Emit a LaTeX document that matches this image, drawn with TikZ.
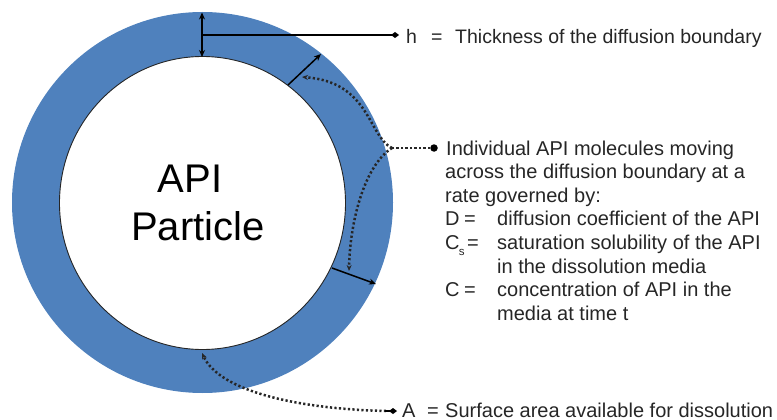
\documentclass[tikz,border=0pt]{standalone}
\usepackage{fontspec}
\setmainfont{Liberation Sans}
\usetikzlibrary{arrows.meta}
\definecolor{ringblue}{RGB}{79,129,189}
\definecolor{txt}{RGB}{38,38,38}
\begin{document}
\begin{tikzpicture}[x=1pt,y=-1pt,
  lbl/.style={anchor=base west, inner sep=0pt, text=txt, font=\fontsize{20}{23}\selectfont},
  hlbl/.style={lbl, font=\fontsize{19.5}{23}\selectfont},
  big/.style={anchor=base, inner sep=0pt, text=black, font=\fontsize{40}{46}\selectfont},
  solidarrow/.style={line width=1.7pt, draw=black},
  dotline/.style={line width=2.5pt, dash pattern=on 2.2pt off 2.3pt, line cap=butt, draw=black!85},
  dottip/.style={-{Stealth[length=6pt,width=5pt]}},
  bullet/.style={circle, fill=black, inner sep=0pt, minimum size=7.5pt}
]
\useasboundingbox (0,0) rectangle (777,420);

% ring
\coordinate (c) at (202.5,203);
\fill[ringblue, even odd rule] (202.5,202.5) circle[radius=190.5pt]
  (c) ellipse[x radius=143pt, y radius=146.5pt];
\draw[line width=0.9pt, black!85] (c) ellipse[x radius=143pt, y radius=146.5pt];

% central label
\node[big] (api) at (190,192) {API};
\node[big] (particle) at (198,240) {Particle};

% h : thickness
\coordinate (hin) at (202,57);
\coordinate (hout) at (202,12.5);
\coordinate (hmid) at (202,35);
\coordinate (hend) at (399,35);
\draw[solidarrow, {Stealth[length=7pt,width=6pt]}-{Stealth[length=7pt,width=6pt]}] (hin) -- (hout);
\draw[solidarrow, -{Diamond[length=8pt,width=6pt]}] (hmid) -- (hend);
\node[hlbl] (hsym) at (406,44) {h};
\node[hlbl] (heq) at (431,44) {=};
\node[hlbl] (htext) at (455,44) {Thickness of the diffusion boundary};

% radial thickness arrows
\coordinate (ua) at (288,85);
\coordinate (ub) at (321,54);
\draw[solidarrow, line width=1.5pt, -{Stealth[length=7pt,width=6pt]}] (ua) -- (ub);
\coordinate (la) at (332,268);
\coordinate (lb) at (376,284);
\draw[solidarrow, line width=1.5pt, -{Stealth[length=7pt,width=6pt]}] (la) -- (lb);

% molecules text block
\node[bullet] (mb) at (434,148) {};
\coordinate (split) at (392,148);
\coordinate (utip) at (302,77);
\coordinate (ltip) at (349,271);
\draw[dotline] (mb.west) -- (split);
\draw[dotline, dottip] (split) .. controls (368,136) and (370,82) .. (utip);
\draw[dotline, dottip] (split) .. controls (365,165) and (350,220) .. (ltip);

\node[lbl] (m1) at (446,155) {Individual API molecules moving};
\node[lbl] (m2) at (445,178.6) {across the diffusion boundary at a};
\node[lbl] (m3) at (445,202.2) {rate governed by:};
\node[lbl] (dsym) at (445,225.8) {D};
\node[lbl] (deq) at (464,225.8) {=};
\node[lbl] (dtext) at (497,225.8) {diffusion coefficient of the API};
\node[lbl] (cssym) at (445,249.4) {C\kern-0.8pt\raisebox{-0.55ex}{\fontsize{11.5}{13}\selectfont s}};
\node[lbl] (cseq) at (467,249.4) {=};
\node[lbl] (cstext) at (497,249.4) {saturation solubility of the API};
\node[lbl] (cstext2) at (497,273) {in the dissolution media};
\node[lbl] (csym) at (445,296.6) {C};
\node[lbl] (ceq) at (464,296.6) {=};
\node[lbl] (ctext) at (497,296.6) {concentration of API in the};
\node[lbl] (ctext2) at (497,320.2) {media at time t};

% A : surface area
\coordinate (aend) at (397,411);
\coordinate (atip) at (202,353);
\coordinate (astart) at (386,411);
\coordinate (adiam) at (385,411);
\draw[dotline, -{Stealth[length=6pt,width=5pt]}] (astart) .. controls (300,409) and (220,392) .. (atip);
\draw[line width=1.3pt, -{Diamond[length=8pt,width=6pt]}] (adiam) -- (aend);
\node[lbl] (asym) at (402,417) {A};
\node[lbl] (aeq) at (427,417) {=};
\node[lbl] (atext) at (445,417) {Surface area available for dissolution};
\end{tikzpicture}
\end{document}
